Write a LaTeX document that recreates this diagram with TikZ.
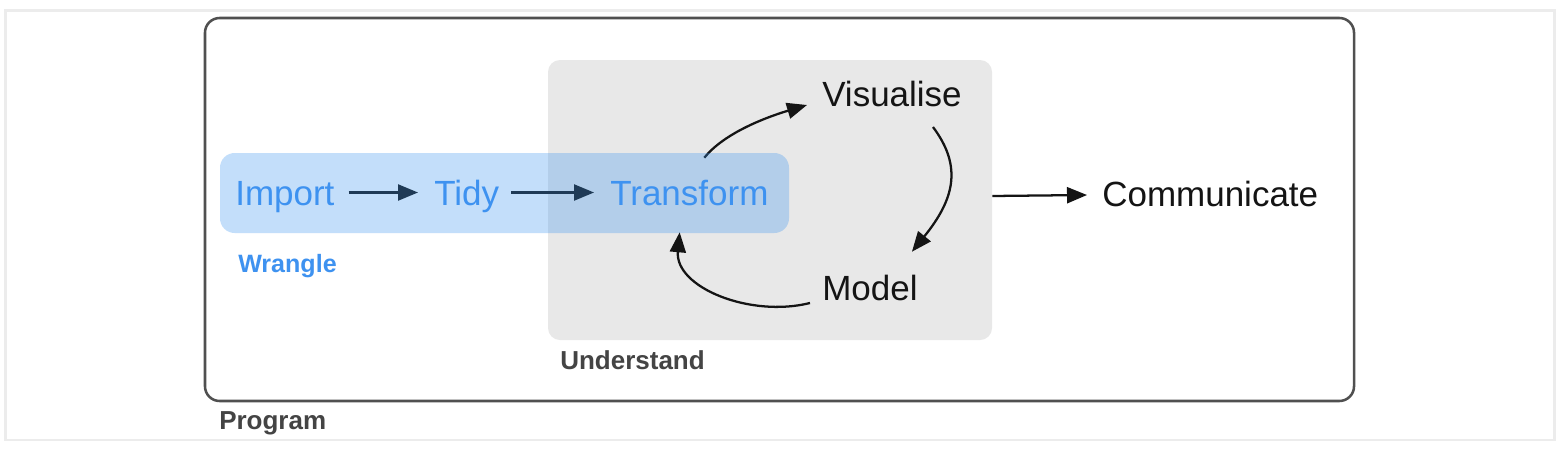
\documentclass[tikz,border=0pt]{standalone}
\usepackage{fontspec}
\setmainfont{Liberation Sans}
\usetikzlibrary{arrows.meta,calc}
\definecolor{tblue}{RGB}{62,146,240}
\definecolor{bfill}{RGB}{58,149,240}
\definecolor{ugray}{RGB}{232,232,232}
\definecolor{lab}{RGB}{68,68,68}
\definecolor{pline}{RGB}{80,80,80}
\definecolor{framegray}{RGB}{236,236,236}
\definecolor{ink}{RGB}{20,20,20}
\pgfdeclarelayer{bg}
\pgfdeclarelayer{arr}
\pgfdeclarelayer{wb}
\pgfsetlayers{bg,arr,wb,main}
\tikzset{
  big/.style={font=\fontsize{26.25pt}{30pt}\selectfont, inner sep=0pt, text height=18.75pt, text depth=0pt, anchor=west},
  bluetext/.style={big, text=tblue},
  blacktext/.style={big, text=ink},
  grouplabel/.style={font=\bfseries\fontsize{19.5pt}{22pt}\selectfont, inner sep=0pt, anchor=base west, text=lab},
  arr/.style={draw=ink, line width=1.7pt, -{Triangle[length=15pt,width=12pt]}},
}
\begin{document}
\begin{tikzpicture}[x=0.75pt,y=-0.75pt]
\useasboundingbox (0,0) rectangle (1562,450);

% containers
\begin{pgfonlayer}{bg}
\fill[white] (0,0) rectangle (1562,450);
\draw[framegray, line width=2pt] (5.3,10.7) rectangle (1554.3,440);
\node[draw=pline, line width=1.9pt, rounded corners=11pt, minimum width=861.75pt, minimum height=287.25pt, inner sep=0pt] (prog) at (779.5,209.5) {};
\node[fill=ugray, rounded corners=9pt, minimum width=333pt, minimum height=210pt, inner sep=0pt] (ubox) at (770,200) {};
\end{pgfonlayer}
\begin{pgfonlayer}{wb}
\node[fill=bfill, fill opacity=0.3, rounded corners=11pt, minimum width=426.75pt, minimum height=60pt, inner sep=0pt] (wbox) at (504.5,193) {};
\end{pgfonlayer}

% labels
\node[bluetext] (imp) at (235,192.5) {Import};
\node[bluetext] (tidy) at (434,192.5) {Tidy};
\node[bluetext] (trans) at (610,192.5) {Transform};
\node[blacktext] (vis) at (822,93.5) {Visualise};
\node[blacktext] (model) at (822,287.5) {Model};
\node[blacktext] (comm) at (1102,193.5) {Communicate};
\node[grouplabel, text=tblue, font=\bfseries\fontsize{18.8pt}{21pt}\selectfont] (wr) at (238,272) {Wrangle};
\node[grouplabel] (und) at (560,369) {Understand};
\node[grouplabel] (prg) at (219,429) {Program};

% connectors
\begin{pgfonlayer}{arr}
\draw[arr] ($(imp.east)+(14,0)$) -- ($(tidy.west)+(-16,0)$);
\draw[arr] ($(tidy.east)+(12,0)$) -- ($(trans.west)+(-16,0)$);
\draw[arr] ($(trans.north)+(15,-22)$) .. controls +(20,-25) and +(-40,12) .. ($(vis.west)+(-15,11.5)$);
\draw[arr] ($(vis.east)+(-29,33.5)$) .. controls +(30,40) and +(42,-52) .. ($(model.north)+(42,-23)$);
\draw[arr] ($(model.west)+(-12,15.5)$) .. controls +(-60,15) and +(-5,55) .. ($(trans.south)+(-9.7,27)$);
\draw[arr] ($(ubox.east)+(0,-4)$) -- ($(comm.west)+(-15,1.5)$);
\end{pgfonlayer}
\end{tikzpicture}
\end{document}
